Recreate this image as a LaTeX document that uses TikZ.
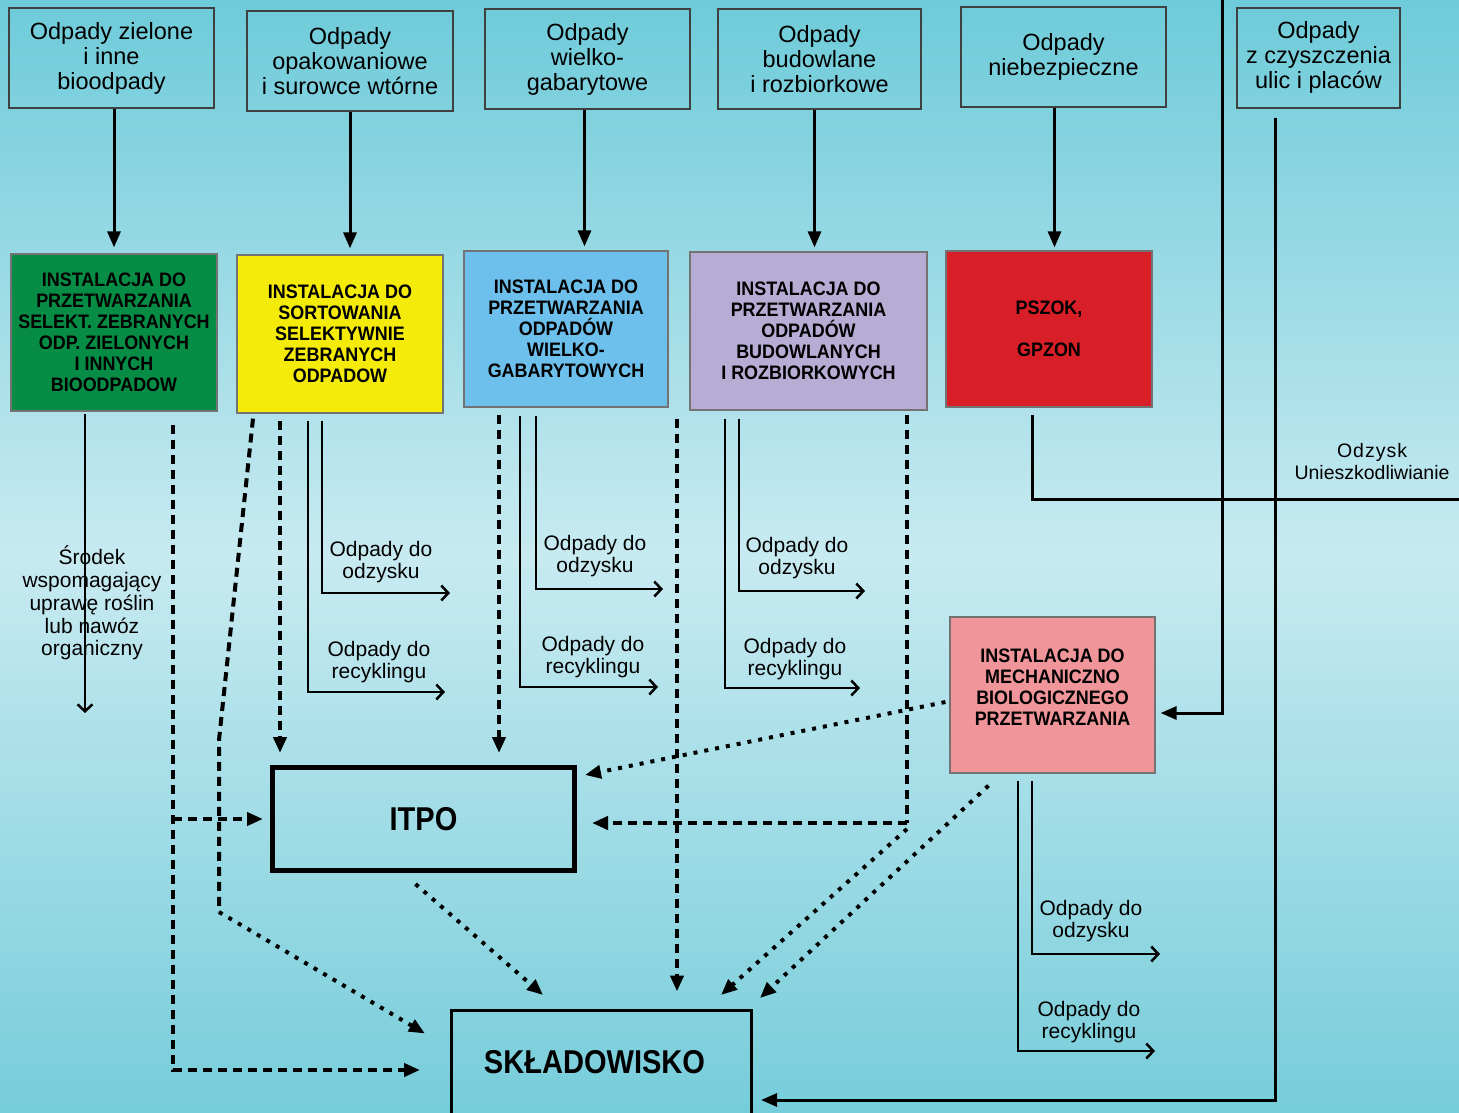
\documentclass[tikz,border=0pt]{standalone}
\usepackage{fontspec}
\setmainfont{Liberation Sans}
\newfontfamily\condfont{Liberation Sans}[FakeStretch=0.92]
\newfontfamily\bigcondfont{Liberation Sans}[FakeStretch=0.88]
\usetikzlibrary{arrows.meta,calc}

\definecolor{bgtop}{RGB}{110,203,217}
\definecolor{bgmid}{RGB}{200,234,241}
\definecolor{bgbot}{RGB}{118,205,218}
\definecolor{fillBio}{RGB}{6,140,68}
\definecolor{fillSort}{RGB}{245,235,10}
\definecolor{fillWielk}{RGB}{110,192,236}
\definecolor{fillBud}{RGB}{182,172,212}
\definecolor{fillPszok}{RGB}{216,30,38}
\definecolor{fillMbp}{RGB}{240,150,155}

\tikzset{
  srcbox/.style={draw=black!75,line width=1.3pt,inner sep=0pt,minimum height=100pt,
    align=center,font=\fontsize{23.5}{25}\selectfont},
  instbox/.style={draw=black!55,line width=1.2pt,inner sep=0pt,align=center,
    font=\condfont\bfseries\fontsize{19.5}{21}\selectfont},
  bigbox/.style={draw=black,inner sep=0pt,font=\bigcondfont\bfseries\fontsize{33}{36}\selectfont},
  lbl/.style={align=center,inner sep=0pt,font=\fontsize{21}{22.75}\selectfont},
  flow/.style={line width=3pt,-{Triangle[length=16pt,width=13pt]}},
  outflow/.style={line width=2.5pt,-{Straight Barb[length=7pt,width=15pt,line width=2.5pt]}},
  dashline/.style={line width=4pt,dash pattern=on 9pt off 6pt},
  dashflow/.style={dashline,-{Triangle[length=16pt,width=13pt]}},
  dotflow/.style={line width=4pt,dash pattern=on 4pt off 7pt,-{Triangle[length=16pt,width=13pt]}},
}

\begin{document}
\begin{tikzpicture}[x=1pt,y=-1pt]
\useasboundingbox (0,0) rectangle (1459,1112);
\shade[top color=bgtop,bottom color=bgbot,middle color=bgmid] (0,0) rectangle (1459,1112);

% sources
\node[srcbox,minimum width=205pt] (srcZiel) at (111.5,58) {Odpady zielone\\i inne\\bioodpady};
\node[srcbox,minimum width=206pt] (srcOpak) at (350,61) {Odpady\\opakowaniowe\\i surowce wtórne};
\node[srcbox,minimum width=205pt] (srcWielk) at (587.5,59) {Odpady\\wielko-\\gabarytowe};
\node[srcbox,minimum width=203pt] (srcBud) at (819.5,59) {Odpady\\budowlane\\i rozbiorkowe};
\node[srcbox,minimum width=205pt] (srcNieb) at (1063.5,57) {Odpady\\niebezpieczne};
\node[srcbox,minimum width=163pt] (srcUlic) at (1318.5,58) {\raisebox{6pt}{\shortstack{Odpady\\z czyszczenia\\ulic i placów}}};

% installations
\node[instbox,fill=fillBio,minimum width=206pt,minimum height=157pt] (instBio) at (114,332.5)
  {INSTALACJA DO\\PRZETWARZANIA\\SELEKT. ZEBRANYCH\\ODP. ZIELONYCH\\I INNYCH\\BIOODPADOW};
\node[instbox,fill=fillSort,minimum width=206pt,minimum height=158pt] (instSort) at (340,334)
  {INSTALACJA DO\\SORTOWANIA\\SELEKTYWNIE\\ZEBRANYCH\\ODPADOW};
\node[instbox,fill=fillWielk,minimum width=204pt,minimum height=156pt] (instWielk) at (566,329)
  {INSTALACJA DO\\PRZETWARZANIA\\ODPADÓW\\WIELKO-\\GABARYTOWYCH};
\node[instbox,fill=fillBud,minimum width=237pt,minimum height=158pt] (instBud) at (808.5,331)
  {INSTALACJA DO\\PRZETWARZANIA\\ODPADÓW\\BUDOWLANYCH\\I ROZBIORKOWYCH};
\node[instbox,fill=fillPszok,minimum width=206pt,minimum height=156pt] (pszok) at (1049,329)
  {PSZOK,\\[21pt]GPZON};
\node[instbox,fill=fillMbp,minimum width=205pt,minimum height=156pt] (mbp) at (1052.5,695)
  {INSTALACJA DO\\MECHANICZNO\\BIOLOGICZNEGO\\PRZETWARZANIA\\[-5pt]};
\node[bigbox,line width=5pt,minimum width=302pt,minimum height=103pt] (itpo) at (423.5,819) {ITPO};
\node[bigbox,line width=3pt,minimum width=300pt,minimum height=104pt] (skl) at (601.5,1062) {SKŁADOWISKO\hspace*{14pt}};

% sources -> installations
\draw[flow,shorten >=6pt] (srcZiel.south -| instBio.north) -- (instBio.north);
\draw[flow,shorten >=6pt] (srcOpak.south) -- (srcOpak.south |- instSort.north);
\draw[flow,shorten >=4pt] ([xshift=-3pt]srcWielk.south) -- ([xshift=-3pt]srcWielk.south |- instWielk.north);
\draw[flow,shorten >=4pt] ([xshift=-5pt]srcBud.south) -- ([xshift=-5pt]srcBud.south |- instBud.north);
\draw[flow,shorten >=3pt] ([xshift=-9pt]srcNieb.south) -- ([xshift=-9pt]srcNieb.south |- pszok.north);

% green
\coordinate (bioEnd) at (85,713);
\draw[outflow,line width=2pt] ([xshift=-29pt,yshift=-2pt]instBio.south) -- (bioEnd);
\node[lbl] (bioLbl) at (92,603) {Środek\\wspomagający\\uprawę roślin\\lub nawóz\\organiczny};
\draw[dashflow,shorten >=30pt] ([xshift=59pt,yshift=-13pt]instBio.south) |- ([yshift=-8pt]skl.west);
\draw[dashflow,shorten >=7pt] ([xshift=59pt]instBio.south |- itpo.west) -- (itpo.west);

% yellow
\coordinate (sortBend) at (219,740);
\coordinate (sortKnee) at (219,912);
\coordinate (sortOdz) at (450,593);
\coordinate (sortRec) at (445,692);
\draw[dashline] ([xshift=-87pt,yshift=-5pt]instSort.south) -- (sortBend) -- (sortKnee);
\draw[dotflow] (sortKnee) -- ([xshift=-25pt,yshift=-25pt]skl.north west);
\draw[dashflow,shorten >=12pt] ([xshift=-60pt,yshift=-7pt]instSort.south) -- ([xshift=-60pt]instSort.south |- itpo.north);
\draw[outflow] ([xshift=-32pt,yshift=-7pt]instSort.south) |- (sortRec);
\draw[outflow] ([xshift=-18pt,yshift=-7pt]instSort.south) |- (sortOdz);
\node[lbl] (sortOdzLbl) at (381,562) {Odpady do\\odzysku};
\node[lbl] (sortRecLbl) at (379,662) {Odpady do\\recyklingu};

% blue
\coordinate (wielkOdz) at (663,589);
\coordinate (wielkRec) at (658,687);
\draw[dashflow,shorten >=12pt] ([xshift=-67pt,yshift=-7pt]instWielk.south) -- ([xshift=-67pt]instWielk.south |- itpo.north);
\draw[outflow] ([xshift=-46pt,yshift=-8pt]instWielk.south) |- (wielkRec);
\draw[outflow] ([xshift=-30pt,yshift=-8pt]instWielk.south) |- (wielkOdz);
\draw[dashflow,shorten >=17pt] ([xshift=111pt,yshift=-11pt]instWielk.south) -- ([xshift=111pt]instWielk.south |- skl.north);
\node[lbl] (wielkOdzLbl) at (595,556) {Odpady do\\odzysku};
\node[lbl] (wielkRecLbl) at (593,657) {Odpady do\\recyklingu};

% purple
\coordinate (budOdz) at (865,591);
\coordinate (budRec) at (860,688);
\coordinate (budKnee) at (907,823);
\draw[outflow] ([xshift=-83.5pt,yshift=-8pt]instBud.south) |- (budRec);
\draw[outflow] ([xshift=-69.5pt,yshift=-8pt]instBud.south) |- (budOdz);
\draw[dashline] ([xshift=98.5pt,yshift=-4pt]instBud.south) -- (budKnee);
\draw[dashflow,shorten >=15pt] (budKnee) -- (budKnee -| itpo.east);
\draw[dotflow] ([yshift=-6pt]budKnee) -- (721,995);
\node[lbl] (budOdzLbl) at (797,558) {Odpady do\\odzysku};
\node[lbl] (budRecLbl) at (795,659) {Odpady do\\recyklingu};

% red
\coordinate (odzEnd) at (1478,499);
\draw[flow] ([xshift=-17pt,yshift=-7pt]pszok.south) |- (odzEnd);
\node[lbl,font=\fontsize{19.5}{22}\selectfont] (odzLbl) at (1372,462)
  {O\kern1pt d\kern1pt z\kern1pt y\kern1pt s\kern1pt k\\Unieszkodliwianie};

% street cleaning and the line from above
\coordinate (topIn) at (1222,-5);
\draw[flow,shorten >=8pt] ([xshift=-43.5pt,yshift=-9pt]srcUlic.south) |- ([yshift=-38pt]skl.east);
\draw[flow,shorten >=5pt] (topIn) |- ([yshift=-18pt]mbp.east);

% MBP
\coordinate (mbpOdz) at (1160,954);
\coordinate (mbpRec) at (1155,1051);
\draw[dotflow] ([xshift=-4pt,yshift=-7pt]mbp.west) -- (585,775);
\draw[dotflow] ([xshift=-64pt,yshift=-12pt]mbp.south) -- (760,998);
\draw[outflow] ([xshift=-34.5pt,yshift=-7pt]mbp.south) |- (mbpRec);
\draw[outflow] ([xshift=-20.5pt,yshift=-7pt]mbp.south) |- (mbpOdz);
\node[lbl] (mbpOdzLbl) at (1091,921) {Odpady do\\odzysku};
\node[lbl] (mbpRecLbl) at (1089,1022) {Odpady do\\recyklingu};

% ITPO -> skladowisko
\draw[dotflow] ([xshift=-8pt,yshift=-11pt]itpo.south) -- (543,995);
\end{tikzpicture}
\end{document}
